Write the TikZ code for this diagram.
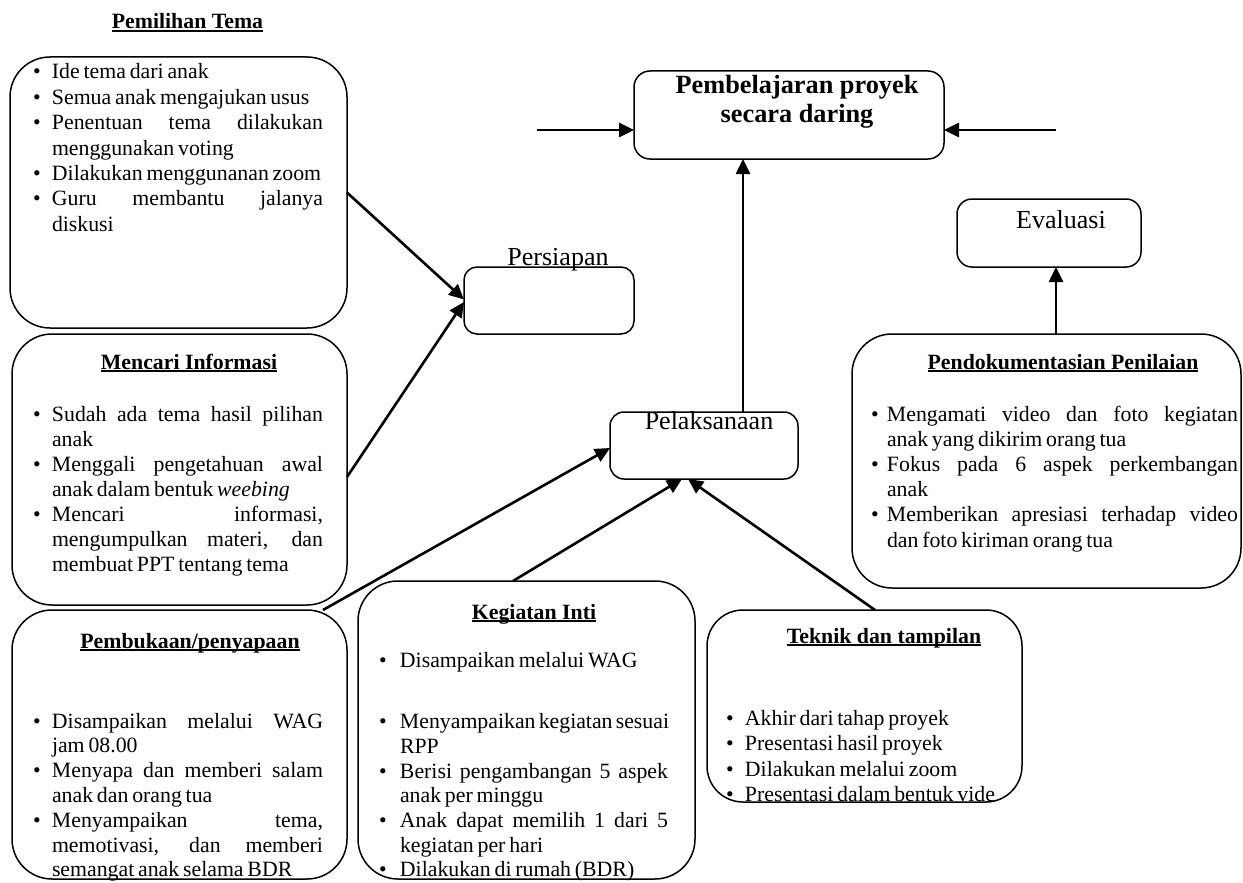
\documentclass[tikz,border=0pt]{standalone}
\usepackage{fontspec}
\setmainfont{Liberation Serif}
\usetikzlibrary{arrows.meta}
\newlength\bw
\newlength\lw
\newcommand\bodyfont{\fontsize{21.8}{25.2}\selectfont}
\newcommand\bigfont{\fontsize{26}{30}\selectfont}
\newcommand\ulx[1]{\setbox0\hbox{#1}\rlap{\rule[-2.6pt]{\wd0}{1.3pt}}\box0}
\newcommand\jl[1]{\makebox[\lw][s]{#1}\newline}
\newcommand\fitem[1]{\noindent\hangindent=\bw\hangafter=1\makebox[\bw][l]{\rule{0pt}{16pt}\textbullet}#1}
\newcommand\bitem[1]{\par\fitem{#1}}
\newcommand\mylist[3]{\setlength\bw{#1}\setlength\lw{#3}\fontsize{21.8}{#2}\selectfont\spaceskip=0.175em plus 3em minus 0.03em\relax \xspaceskip=\spaceskip \hyphenpenalty=10000 \tolerance=9999 \hbadness=10000 \hfuzz=20pt \parindent=0pt \parskip=0pt \leftskip=0pt \rightskip=0pt plus 1fil\relax}
\tikzset{
 box/.style={draw, line width=1.5pt, inner sep=0pt, outer sep=0pt},
 bigbox/.style={box, rounded corners=40pt},
 smallbox/.style={box, rounded corners=14pt},
 arr/.style={line width=2.6pt, -{Triangle[length=15pt,width=14pt]}},
 lst/.style={anchor=north west, inner sep=0pt, outer sep=0pt, text width=#1},
 ttl/.style={anchor=base, inner sep=0pt, font=\bodyfont\bfseries},
 lbl/.style={anchor=base, inner sep=0pt, font=\bigfont},
}
\begin{document}
\begin{tikzpicture}[x=1pt,y=-1pt]
\fill[white] (0,0) rectangle (1243,883);
\useasboundingbox (0,0) rectangle (1243,883);

% boxes
\node[bigbox, minimum width=337pt, minimum height=271pt] (pem) at (178.5,192.5) {};
\node[bigbox, minimum width=335pt, minimum height=271pt] (mci) at (179.5,469.5) {};
\node[bigbox, minimum width=335pt, minimum height=269pt] (pbk) at (179.5,744.5) {};
\node[bigbox, minimum width=337pt, minimum height=298pt] (keg) at (526.5,730) {};
\node[bigbox, rounded corners=36pt, minimum width=315pt, minimum height=192pt] (tek) at (864.5,706) {};
\node[bigbox, minimum width=389pt, minimum height=254pt] (pdk) at (1046.5,461) {};
\node[smallbox, rounded corners=16pt, minimum width=310pt, minimum height=88pt] (top) at (789,115) {};
\node[smallbox, rounded corners=13pt, minimum width=170pt, minimum height=67pt] (per) at (549,300.5) {};
\node[smallbox, minimum width=188pt, minimum height=67pt] (pel) at (704,445.5) {};
\node[smallbox, rounded corners=15pt, minimum width=184pt, minimum height=68pt] (eva) at (1049,233) {};

% labels of small boxes
\node[anchor=base, inner sep=0pt, font=\fontsize{26.3}{30}\selectfont\bfseries] (tt1) at (797,93) {Pembelajaran proyek};
\node[anchor=base, inner sep=0pt, font=\fontsize{26.3}{30}\selectfont\bfseries] (tt2) at (797,122) {secara daring};
\node[lbl] (perl) at (558,265) {Persiapan};
\node[lbl] (pell) at (709,429) {Pelaksanaan};
\node[lbl] (eval) at (1061,228) {Evaluasi};

% titles
\node[ttl] (t1) at (187.5,29) {\ulx{Pemilihan Tema}};
\node[ttl] (t2) at (189,369) {\ulx{Mencari Informasi}};
\node[ttl] (t3) at (190,648) {\ulx{Pembukaan/penyapaan}};
\node[ttl] (t4) at (534,619) {\ulx{Kegiatan Inti}};
\node[ttl] (t5) at (884,643) {\ulx{Teknik dan tampilan}};
\node[ttl] (t6) at (1063,369) {\ulx{Pendokumentasian Penilaian}};

% lists
\node[lst=290pt] (l1) at (33,63) {\mylist{19pt}{25.4}{271pt}%
\fitem{Ide tema dari anak}%
\bitem{Semua anak mengajukan usus}%
\bitem{\jl{Penentuan tema dilakukan}menggunakan voting}%
\bitem{Dilakukan menggunanan zoom}%
\bitem{\jl{Guru membantu jalanya}diskusi}\par};

\node[lst=290pt] (l2) at (33,405) {\mylist{19pt}{25}{271pt}%
\fitem{\jl{Sudah ada tema hasil pilihan}anak}%
\bitem{\jl{Menggali pengetahuan awal}anak dalam bentuk \textit{weebing}}%
\bitem{\jl{Mencari informasi,}\jl{mengumpulkan materi, dan}membuat PPT tentang tema}\par};

\node[lst=290pt] (l3) at (33,712) {\mylist{19pt}{24.8}{271pt}%
\fitem{\jl{Disampaikan melalui WAG}jam 08.00}%
\bitem{\jl{Menyapa dan memberi salam}anak dan orang tua}%
\bitem{\jl{Menyampaikan tema,}\jl{memotivasi, dan memberi}semangat anak selama BDR}\par};

\node[lst=291pt] (l4) at (379,651) {\mylist{21pt}{24.7}{268pt}%
\fitem{Disampaikan melalui WAG}\par\vspace{37pt}%
\bitem{\jl{Menyampaikan kegiatan sesuai}RPP}%
\bitem{\jl{Berisi pengambangan 5 aspek}anak per minggu}%
\bitem{\jl{Anak dapat memilih 1 dari 5}kegiatan per hari}%
\bitem{Dilakukan di rumah (BDR)}\par};

\node[lst=290pt] (l5) at (726,709) {\mylist{19pt}{25.6}{271pt}%
\fitem{Akhir dari tahap proyek}%
\bitem{Presentasi hasil proyek}%
\bitem{Dilakukan melalui zoom}%
\bitem{Presentasi dalam bentuk vide}\par};

\node[lst=367pt] (l6) at (871,405) {\mylist{16pt}{25.2}{351pt}%
\fitem{\jl{Mengamati video dan foto kegiatan}anak yang dikirim orang tua}%
\bitem{\jl{Fokus pada 6 aspek perkembangan}anak}%
\bitem{\jl{Memberikan apresiasi terhadap video}dan foto kiriman orang tua}\par};

% connectors
\coordinate (inL) at (537,130);
\coordinate (inR) at (1056,130);
\coordinate (v1) at ([xshift=39pt]pel.north);
\coordinate (v2) at ([xshift=9.5pt]pdk.north);
\draw[arr] (inL) -- ([yshift=-15pt]top.west);
\draw[arr] (inR) -- ([yshift=-15pt]top.east);
\draw[arr] (v1) -- (v1 |- top.south);
\draw[arr] (v2) -- (v2 |- eva.south);
\draw[arr] (pem.east) -- ([yshift=1pt]per.west);
\draw[arr] ([yshift=-7.5pt]mci.east) -- ([yshift=-1.5pt]per.west);
\draw[arr] ([xshift=-24pt]pbk.north east) -- ([yshift=-2.5pt]pel.west);
\draw[arr] ([xshift=-13.5pt]keg.north) -- ([xshift=-22pt]pel.south);
\draw[arr] ([xshift=10.5pt]tek.north) -- ([xshift=-16pt]pel.south);
\end{tikzpicture}
\end{document}
